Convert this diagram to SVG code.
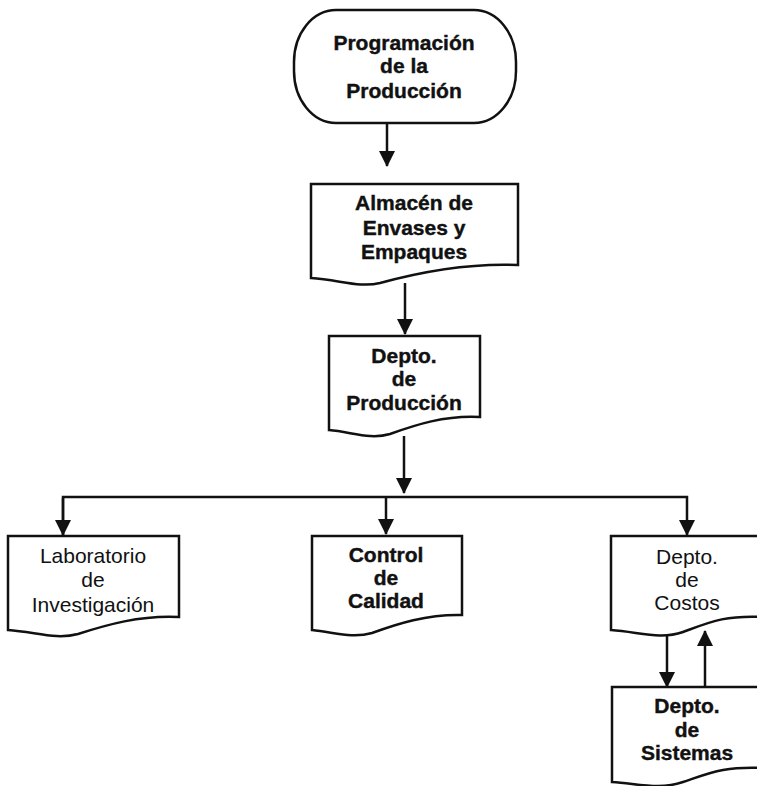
<svg xmlns="http://www.w3.org/2000/svg" width="757" height="786" viewBox="0 0 757 786">
<style>
.shape{fill:#fff;stroke:#111;stroke-width:2.5;stroke-linejoin:miter}
.ln{fill:none;stroke:#111;stroke-width:2.5}
.b{font-family:"Liberation Sans",Arial,sans-serif;font-size:21px;font-weight:bold;fill:#111;stroke:#111;stroke-width:0.4;text-anchor:middle}
.r{font-family:"Liberation Sans",Arial,sans-serif;font-size:21px;fill:#111;text-anchor:middle}
</style>
<defs>
<marker id="ah" markerWidth="16" markerHeight="16" refX="15" refY="8" orient="auto" markerUnits="userSpaceOnUse">
<path d="M0,0 L16,8 L0,16 Z" fill="#111"/>
</marker>
</defs>
<rect width="757" height="786" fill="#fff"/>
<g id="connectors">
<line class="ln" x1="387" y1="123" x2="387" y2="166" marker-end="url(#ah)"/>
<line class="ln" x1="405" y1="283" x2="405" y2="334" marker-end="url(#ah)"/>
<line class="ln" x1="404" y1="436" x2="404" y2="493" marker-end="url(#ah)"/>
<polyline class="ln" points="63,535 63,497 687,497 687,535" marker-end="url(#ah)"/>
<line class="ln" x1="63" y1="498" x2="63" y2="535" marker-end="url(#ah)"/>
<line class="ln" x1="386" y1="497" x2="386" y2="534" marker-end="url(#ah)"/>
<line class="ln" x1="667" y1="634" x2="667" y2="687" marker-end="url(#ah)"/>
<line class="ln" x1="705" y1="687" x2="705" y2="631" marker-end="url(#ah)"/>
</g>
<g id="programacion">
<rect class="shape" x="294" y="10" width="222" height="113" rx="42" ry="52"/>
<text class="b" x="404" y="50">Programación</text>
<text class="b" x="404" y="73">de la</text>
<text class="b" x="404" y="98">Producción</text>
</g>
<g id="almacen">
<path class="shape" d="M311,184 H518 V265 C470,263 420,272 380,283 C360,288 340,280 311,278 Z"/>
<text class="b" x="414" y="210">Almacén de</text>
<text class="b" x="414" y="235">Envases y</text>
<text class="b" x="414" y="259">Empaques</text>
</g>
<g id="produccion">
<path class="shape" d="M329,336 H480 V417 C445,415 415,425 390,434 C370,440 352,432 329,430 Z"/>
<text class="b" x="404" y="363">Depto.</text>
<text class="b" x="404" y="386">de</text>
<text class="b" x="404" y="410">Producción</text>
</g>
<g id="laboratorio">
<path class="shape" d="M8,536 H179 V617 C140,615 106,625 78,634 C56,640 36,632 8,630 Z"/>
<text class="r" x="93" y="563">Laboratorio</text>
<text class="r" x="93" y="587">de</text>
<text class="r" x="93" y="612">Investigación</text>
</g>
<g id="calidad">
<path class="shape" d="M312,536 H462 V615 C427,614 397,624 372,633 C352,639 334,632 312,630 Z"/>
<text class="b" x="386" y="562">Control</text>
<text class="b" x="386" y="585">de</text>
<text class="b" x="386" y="608">Calidad</text>
</g>
<g id="costos">
<path class="shape" d="M611,536 H764 V617 C725,615 710,622 683,632 C660,640 640,632 611,630 Z"/>
<text class="r" x="687" y="564">Depto.</text>
<text class="r" x="687" y="587">de</text>
<text class="r" x="687" y="610">Costos</text>
</g>
<g id="sistemas">
<path class="shape" d="M612,687 H764 V768 C725,766 710,773 683,782 C660,790 640,784 612,782 Z"/>
<text class="b" x="687" y="713">Depto.</text>
<text class="b" x="687" y="737">de</text>
<text class="b" x="687" y="760">Sistemas</text>
</g>
</svg>
